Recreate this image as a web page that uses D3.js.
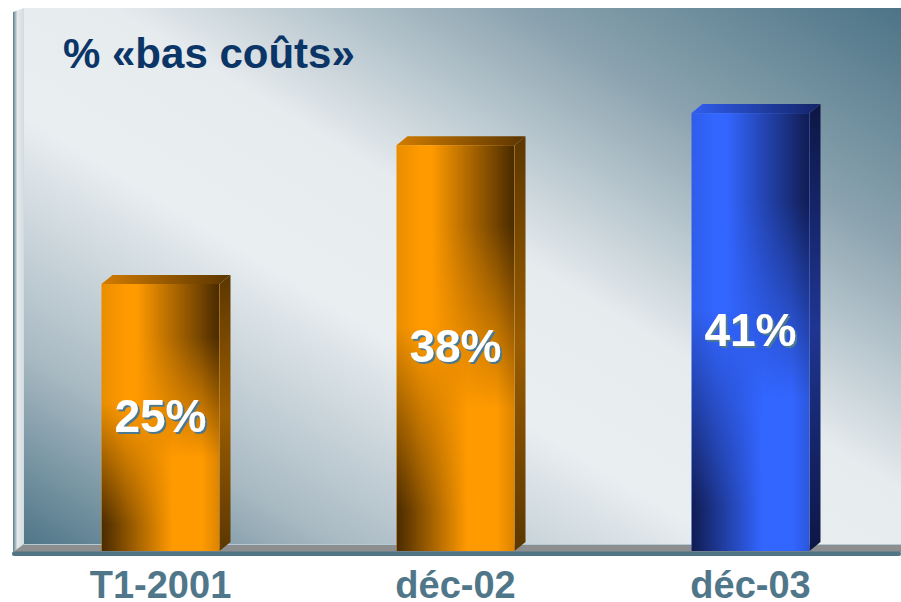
<!DOCTYPE html>
<html>
<head>
<meta charset="utf-8">
<script src="https://cdn.jsdelivr.net/npm/d3@7"></script>
<style>
  html, body { margin: 0; padding: 0; background: #fff; }
  svg { display: block; }
</style>
</head>
<body>
<div id="chart-area"></div>
<script>
// DATA
const categories = ["T1-2001", "déc-02", "déc-03"]
const values = [25, 38, 41]
const valueLabels = ["25%", "38%", "41%"]
const barTheme = ["orange", "orange", "blue"]
const title = "% «bas coûts»"

// AREA
const AREA_WIDTH = 901
const AREA_HEIGHT = 602
const DEPTH = { X: 11, Y: -9 }        // 3d offset of bars and walls
const PLOT = { LEFT: 13, RIGHT: 898, TOP: 8, BASE: 551 }

const svg = d3.select("#chart-area").append("svg")
	.attr("width", AREA_WIDTH)
	.attr("height", AREA_HEIGHT)

// SCALES
const x = d3.scaleBand()
	.domain(categories)
	.range([PLOT.LEFT, PLOT.RIGHT])
	.paddingInner(0.6)
	.paddingOuter(0.3)

const y = d3.scaleLinear()
	.domain([0, 50])
	.range([PLOT.BASE, 17])

// COLOURS
const palette = {
	orange: { light: "#ff9a00", dark: "#4a2b00", side0: "#5c3700", side1: "#9a5c00", top0: "#d27c00", top1: "#5a3500" },
	blue:   { light: "#3366ff", dark: "#111c52", side0: "#0d1644", side1: "#1f3592", top0: "#2f5ef0", top1: "#132366" }
}

const defs = svg.append("defs")

function linGrad(id, x1, y1, x2, y2, stops) {
	const g = defs.append("linearGradient").attr("id", id)
		.attr("x1", x1).attr("y1", y1).attr("x2", x2).attr("y2", y2)
	stops.forEach(s => g.append("stop")
		.attr("offset", s[0]).attr("stop-color", s[1]).attr("stop-opacity", s[2] === undefined ? 1 : s[2]))
	return g
}

// background wall: dark corners top-right / bottom-left, light along the other diagonal
linGrad("wallGrad", 1, 0, 0, 1, [[0, "#4c7487"], [0.22, "#8ba3af"], [0.45, "#e6ebee"], [0.6, "#e9eef1"], [0.82, "#a9bac3"], [1, "#4f7688"]])
linGrad("leftWall", 0, 0, 1, 0, [[0, "#587b8b"], [0.2, "#9fb2bc"], [0.4, "#e4e9ec"], [1, "#d4dce0"]])

// masks for the saddle shaped shading of the bar fronts
linGrad("fadeTop", 0, 0, 0, 1, [[0, "#fff"], [0.2, "#fff"], [0.65, "#000"]])
linGrad("fadeBottom", 0, 0, 0, 1, [[0.45, "#000"], [0.9, "#fff"], [1, "#fff"]])
defs.append("mask").attr("id", "maskTop").attr("maskContentUnits", "objectBoundingBox")
	.append("rect").attr("width", 1).attr("height", 1).attr("fill", "url(#fadeTop)")
defs.append("mask").attr("id", "maskBottom").attr("maskContentUnits", "objectBoundingBox")
	.append("rect").attr("width", 1).attr("height", 1).attr("fill", "url(#fadeBottom)")

// shadow behind the value labels
const shadow = defs.append("filter").attr("id", "labelShadow")
	.attr("x", "-10%").attr("y", "-10%").attr("width", "130%").attr("height", "130%")
shadow.append("feOffset").attr("in", "SourceAlpha").attr("dx", 2.2).attr("dy", 2.2).attr("result", "off")
shadow.append("feFlood").attr("flood-color", "#4b7a90").attr("result", "col")
shadow.append("feComposite").attr("in", "col").attr("in2", "off").attr("operator", "in").attr("result", "sh")
const merge = shadow.append("feMerge")
merge.append("feMergeNode").attr("in", "sh")
merge.append("feMergeNode").attr("in", "SourceGraphic")

Object.keys(palette).forEach(k => {
	const p = palette[k]
	linGrad(k + "Front", 0, 0, 1, 0, [[0, d3.interpolateRgb(p.light, p.dark)(0.12)], [0.2, p.light], [0.85, p.light], [1, d3.interpolateRgb(p.light, p.dark)(0.2)]])
	linGrad(k + "DarkRight", 0, 0, 1, 0, [[0.3, p.dark, 0], [1, p.dark, 1]])
	linGrad(k + "DarkLeft", 0, 0, 1, 0, [[0, p.dark, 1], [0.6, p.dark, 0]])
	linGrad(k + "Side", 0, 0, 0, 1, [[0, p.side0], [0.5, p.side1], [1, p.side0]])
	linGrad(k + "Top", 0, 0, 1, 0, [[0, p.top0], [1, p.top1]])
})

// WALLS AND FLOOR
const backLeft = PLOT.LEFT + DEPTH.X
const backBase = PLOT.BASE + DEPTH.Y + 2

svg.append("rect")
	.attr("x", backLeft).attr("y", PLOT.TOP)
	.attr("width", AREA_WIDTH - backLeft).attr("height", backBase - PLOT.TOP)
	.attr("fill", "url(#wallGrad)")

svg.append("path")
	.attr("d", `M${PLOT.LEFT},${PLOT.TOP + 4} L${backLeft},${PLOT.TOP} L${backLeft},${backBase} L${PLOT.LEFT},${PLOT.BASE + 1} Z`)
	.attr("fill", "url(#leftWall)")

svg.append("path")
	.attr("d", `M${PLOT.LEFT},${PLOT.BASE + 1} L${backLeft},${backBase} L${AREA_WIDTH},${backBase} L${AREA_WIDTH},${PLOT.BASE + 1} Z`)
	.attr("fill", "#8c8e8f")

svg.append("line")
	.attr("x1", backLeft).attr("x2", AREA_WIDTH)
	.attr("y1", backBase + 0.5).attr("y2", backBase + 0.5)
	.attr("stroke", "#b3cad4").attr("stroke-width", 1.2)

svg.append("rect")
	.attr("x", PLOT.LEFT - 1).attr("y", PLOT.BASE + 0.5)
	.attr("width", AREA_WIDTH - PLOT.LEFT + 1).attr("height", 4.5)
	.attr("rx", 2)
	.attr("fill", "#517585")

// TITLE
svg.append("text")
	.attr("x", 63).attr("y", 68)
	.attr("font-family", "'Liberation Sans', Arial, sans-serif")
	.attr("font-weight", "bold")
	.attr("font-size", "42px")
	.attr("fill", "#0b3566")
	.text(title)

// BARS
const bars = svg.selectAll("g.bar")
	.data(categories.map((c, i) => ({ cat: c, value: values[i], label: valueLabels[i], theme: barTheme[i] })))
	.enter().append("g")
	.attr("class", "bar")

// side face
bars.append("path")
	.attr("d", d => {
		const x1 = x(d.cat) + x.bandwidth(), t = y(d.value)
		return `M${x1},${t} L${x1 + DEPTH.X},${t + DEPTH.Y} L${x1 + DEPTH.X},${PLOT.BASE + DEPTH.Y} L${x1},${PLOT.BASE} Z`
	})
	.attr("fill", d => `url(#${d.theme}Side)`)

// top face
bars.append("path")
	.attr("d", d => {
		const x0 = x(d.cat), x1 = x0 + x.bandwidth(), t = y(d.value)
		return `M${x0},${t} L${x0 + DEPTH.X},${t + DEPTH.Y} L${x1 + DEPTH.X},${t + DEPTH.Y} L${x1},${t} Z`
	})
	.attr("fill", d => `url(#${d.theme}Top)`)

// front face + shading layers
const front = sel => sel
	.attr("x", d => x(d.cat))
	.attr("y", d => y(d.value))
	.attr("width", x.bandwidth())
	.attr("height", d => PLOT.BASE - y(d.value))

bars.append("rect").call(front).attr("fill", d => `url(#${d.theme}Front)`)
bars.append("rect").call(front).attr("fill", d => `url(#${d.theme}DarkRight)`).attr("mask", "url(#maskTop)")
bars.append("rect").call(front).attr("fill", d => `url(#${d.theme}DarkLeft)`).attr("mask", "url(#maskBottom)")

// VALUE LABELS
bars.append("text")
	.attr("x", d => x(d.cat) + x.bandwidth() / 2)
	.attr("y", d => y(d.value / 2) + 14)
	.attr("text-anchor", "middle")
	.attr("font-family", "'Liberation Sans', Arial, sans-serif")
	.attr("font-weight", "bold")
	.attr("font-size", "46px")
	.attr("fill", "#ffffff")
	.attr("filter", "url(#labelShadow)")
	.text(d => d.label)

// CATEGORY AXIS
const xAxis = svg.append("g")
	.attr("transform", `translate(0, ${PLOT.BASE})`)
	.call(d3.axisBottom(x).tickSize(0).tickPadding(47))

xAxis.select(".domain").remove()
xAxis.selectAll("text")
	.attr("font-family", "'Liberation Sans', Arial, sans-serif")
	.attr("font-weight", "bold")
	.attr("font-size", "38px")
	.attr("fill", "#507789")
	.attr("dy", 0)
</script>
</body>
</html>
